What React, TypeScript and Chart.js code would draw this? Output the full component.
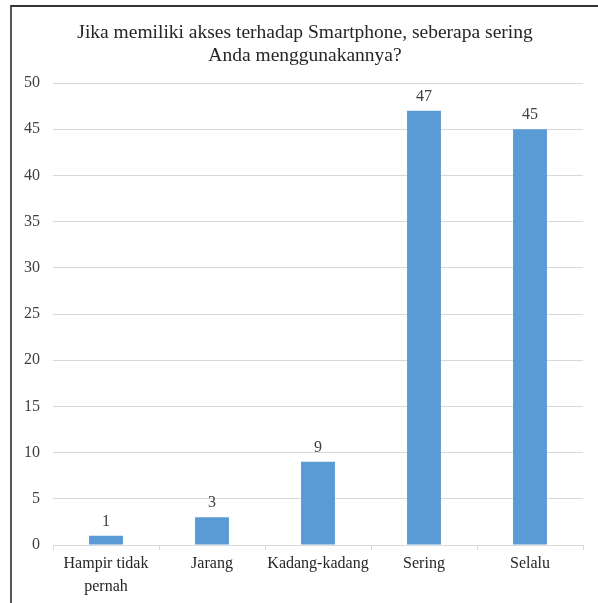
import React, { useEffect, useRef } from "react";
import { Chart, registerables } from "chart.js";

Chart.register(...registerables);

const categories: (string | string[])[] = [["Hampir tidak", "pernah"], "Jarang", "Kadang-kadang", "Sering", "Selalu"];
const values: number[] = [1, 3, 9, 47, 45];
const titleLines: string[] = ["Jika memiliki akses terhadap Smartphone, seberapa sering", "Anda menggunakannya?"];

const FONT = "'Liberation Serif', 'Times New Roman', serif";

const valueLabels = {
  id: "valueLabels",
  afterDatasetsDraw(chart: any) {
    const ctx = chart.ctx;
    const meta = chart.getDatasetMeta(0);
    ctx.save();
    ctx.font = `16px ${FONT}`;
    ctx.fillStyle = "#404040";
    ctx.textAlign = "center";
    ctx.textBaseline = "bottom";
    meta.data.forEach((bar: any, i: number) => {
      ctx.fillText(String(chart.data.datasets[0].data[i]), bar.x, bar.y - 6);
    });
    ctx.restore();
  },
};

const titleText = {
  id: "titleText",
  afterDraw(chart: any) {
    const ctx = chart.ctx;
    ctx.save();
    ctx.font = `19.5px ${FONT}`;
    ctx.fillStyle = "#262626";
    ctx.textAlign = "center";
    ctx.textBaseline = "middle";
    titleLines.forEach((line, i) => {
      ctx.fillText(line, 305, 33 + i * 23);
    });
    ctx.restore();
  },
};

export default function App() {
  const ref = useRef<HTMLCanvasElement>(null);
  useEffect(() => {
    document.body.style.margin = "0";
    const chart = new Chart(ref.current!, {
      type: "bar",
      data: {
        labels: categories,
        datasets: [
          {
            data: values,
            backgroundColor: "#5b9bd5",
            categoryPercentage: 1,
            barPercentage: 0.32,
          },
        ],
      },
      options: {
        animation: false,
        responsive: false,
        layout: { padding: { left: 14, right: 15, top: 83, bottom: 0 } },
        plugins: {
          legend: { display: false },
          tooltip: { enabled: false },
          title: { display: false },
        },
        scales: {
          x: {
            grid: {
              display: true,
              offset: true,
              drawOnChartArea: false,
              drawTicks: true,
              tickLength: 5,
              color: "#d9d9d9",
            },
            border: { display: true, color: "#d9d9d9" },
            ticks: {
              color: "#262626",
              font: { family: FONT, size: 16, lineHeight: 1.4 },
              padding: 3,
              maxRotation: 0,
              autoSkip: false,
            },
            afterFit: (s: any) => {
              s.height = 58;
            },
          },
          y: {
            min: 0,
            max: 50,
            ticks: {
              stepSize: 5,
              color: "#404040",
              font: { family: FONT, size: 16 },
              padding: 13,
            },
            grid: { color: "#d9d9d9", drawTicks: false },
            border: { display: false },
            afterFit: (s: any) => {
              s.width = 39;
            },
          },
        },
      },
      plugins: [valueLabels, titleText],
    });
    return () => chart.destroy();
  }, []);
  return (
    <div style={{ position: "fixed", left: 0, top: 0, width: 598, height: 603, background: "#fff" }}>
      <canvas ref={ref} width={598} height={603} style={{ position: "absolute", left: 0, top: 0 }} />
      <div
        style={{
          position: "absolute",
          left: 10,
          top: 5,
          width: 600,
          height: 620,
          borderTop: "2px solid #333",
          borderLeft: "2px solid #555",
          pointerEvents: "none",
        }}
      />
    </div>
  );
}
